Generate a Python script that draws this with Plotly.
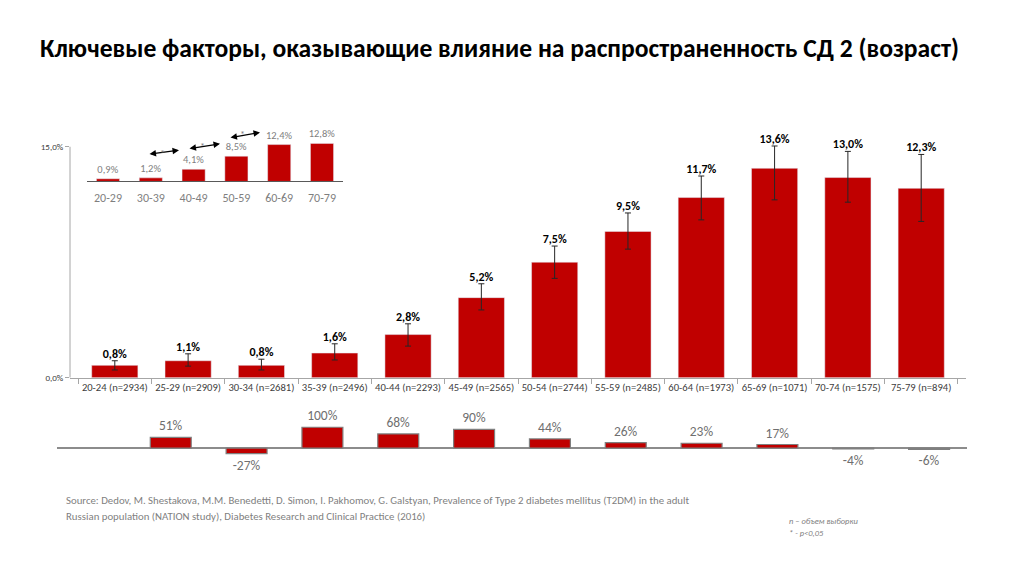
import plotly.graph_objects as go

W, H = 1024, 574
OFF_X, OFF_Y = 8, 4  # position of the plot div inside the page

# ---------------- data ----------------
main_cats = ["20-24 (n=2934)", "25-29 (n=2909)", "30-34 (n=2681)", "35-39 (n=2496)",
             "40-44 (n=2293)", "45-49 (n=2565)", "50-54 (n=2744)", "55-59 (n=2485)",
             "60-64 (n=1973)", "65-69 (n=1071)", "70-74 (n=1575)", "75-79 (n=894)"]
prevalence = [0.8, 1.1, 0.8, 1.6, 2.8, 5.2, 7.5, 9.5, 11.7, 13.6, 13.0, 12.3]
err_plus = [0.3, 0.45, 0.4, 0.6, 0.7, 0.9, 1.05, 1.2, 1.4, 1.45, 1.7, 2.2]
err_minus = [0.3, 0.35, 0.3, 0.45, 0.75, 0.8, 1.05, 1.15, 1.45, 2.05, 1.6, 2.15]

inset_cats = ["20-29", "30-39", "40-49", "50-59", "60-69", "70-79"]
inset_vals = [0.9, 1.2, 4.1, 8.5, 12.4, 12.8]

change_vals = [None, 51, -27, 100, 68, 90, 44, 26, 23, 17, -4, -6]

y_ticks = [0, 15]
y_ticktext = ["0,0%", "15,0%"]

title = "Ключевые факторы, оказывающие влияние на распространенность СД 2 (возраст)"
source_lines = [
    "Source: Dedov, M. Shestakova, M.M. Benedetti, D. Simon, I. Pakhomov, G. Galstyan, Prevalence of Type 2 diabetes mellitus (T2DM) in the adult",
    "Russian population (NATION study), Diabetes Research and Clinical Practice (2016)",
]
note_lines = ["n – объем выборки", "* - p<0,05"]

RED = "#C00000"
FONT = "Calibri, Carlito, 'Open Sans', sans-serif"

FW, FH = W - 2 * OFF_X, H - 2 * OFF_Y - 4


def px_x(x):
    return (x - OFF_X) / FW


def px_y(y):
    return 1 - (y - OFF_Y) / FH


def pct(v):
    return f"{v:.1f}".replace(".", ",") + "%"


# main plot geometry (page pixels)
MAIN_Y0, MAIN_Y15 = 377, 144
MAIN_TOP_VAL = 15.7
main_top_px = MAIN_Y0 - (MAIN_Y0 - MAIN_Y15) / 15 * MAIN_TOP_VAL

fig = go.Figure()

# main bars
fig.add_trace(go.Bar(
    x=main_cats, y=prevalence, width=0.63, marker=dict(color=RED),
    error_y=dict(type="data", array=err_plus, arrayminus=err_minus,
                 color="#262626", thickness=1, width=3),
    xaxis="x", yaxis="y", showlegend=False, hoverinfo="skip"))
fig.add_trace(go.Scatter(
    x=main_cats, y=[v + e for v, e in zip(prevalence, err_plus)],
    text=[pct(v) for v in prevalence], mode="text", textposition="top center",
    textfont=dict(size=12, color="#000000", family=FONT, weight="bold"),
    cliponaxis=False, xaxis="x", yaxis="y", showlegend=False, hoverinfo="skip"))

# inset bars
fig.add_trace(go.Bar(
    x=inset_cats, y=inset_vals, width=0.54, marker=dict(color=RED),
    text=[pct(v) for v in inset_vals], textposition="outside", constraintext="none",
    textfont=dict(size=10.5, color="#7f7f7f", family=FONT), cliponaxis=False,
    xaxis="x2", yaxis="y2", showlegend=False, hoverinfo="skip"))

# change bars
fig.add_trace(go.Bar(
    x=main_cats, y=change_vals, width=0.54,
    marker=dict(color=RED, line=dict(color="#7f7f7f", width=1.2)),
    text=["" if v is None else f"{v}%" for v in change_vals],
    textposition="outside", constraintext="none",
    textfont=dict(size=13.5, color="#6f6f6f", family=FONT), cliponaxis=False,
    xaxis="x3", yaxis="y3", showlegend=False, hoverinfo="skip"))

annotations = [
    dict(text=f"<b>{title}</b>", x=px_x(38), y=px_y(45), xref="paper", yref="paper",
         xanchor="left", yanchor="middle", showarrow=False,
         font=dict(size=25.6, color="#000000", family=FONT)),
]
for i, line in enumerate(source_lines):
    annotations.append(dict(text=line, x=px_x(64), y=px_y(501 + 16 * i), xref="paper", yref="paper",
                            xanchor="left", yanchor="middle", showarrow=False,
                            font=dict(size=10.8, color="#7f7f7f", family=FONT)))
for i, line in enumerate(note_lines):
    annotations.append(dict(text=f"<i>{line}</i>", x=px_x(787), y=px_y(522 + 12 * i), xref="paper", yref="paper",
                            xanchor="left", yanchor="middle", showarrow=False,
                            font=dict(size=8.5, color="#7f7f7f", family=FONT)))

# significance arrows in the inset (decorative)
arrows = [((148, 151.5), (179, 147.5), (158, 142)),
          ((188, 146), (220, 141), (198, 135)),
          ((229, 135), (260, 129.5), (238, 123))]
for (lx, ly), (rx, ry), (sx, sy) in arrows:
    annotations.append(dict(text="", x=px_x(rx), y=px_y(ry), xref="paper", yref="paper",
                            ax=lx - rx, ay=ly - ry, showarrow=True, arrowside="end+start",
                            arrowhead=2, arrowsize=1, arrowwidth=1.3, arrowcolor="#000000"))
    annotations.append(dict(text="*", x=px_x(sx), y=px_y(sy), xref="paper", yref="paper",
                            showarrow=False, font=dict(size=10, color="#7f7f7f", family=FONT)))

shapes = [dict(type="line", xref="x domain", yref="y", x0=0, x1=0, y0=0, y1=15,
               line=dict(color="#A6A6A6", width=1))]

fig.update_layout(
    width=FW, height=FH, margin=dict(l=0, r=0, t=0, b=0),
    paper_bgcolor="white", plot_bgcolor="rgba(0,0,0,0)",
    font=dict(family=FONT),
    xaxis=dict(domain=[px_x(70), px_x(966)], anchor="y", showline=True, linecolor="#A6A6A6",
               ticks="outside", tickson="boundaries", ticklen=5, tickcolor="#A6A6A6",
               tickangle=0, tickfont=dict(size=10.6, color="#404040"), showgrid=False),
    yaxis=dict(domain=[px_y(MAIN_Y0), px_y(main_top_px)], anchor="x", range=[0, MAIN_TOP_VAL],
               tickvals=y_ticks, ticktext=y_ticktext, ticks="outside", ticklen=4,
               tickcolor="#A6A6A6", showline=False, showgrid=False, zeroline=False,
               tickfont=dict(size=9, color="#404040")),
    xaxis2=dict(domain=[px_x(86.6), px_x(343.4)], anchor="y2", showline=True, linecolor="#595959",
                ticks="", showgrid=False, tickangle=0, tickfont=dict(size=12, color="#7f7f7f"),
                ticklabelstandoff=5),
    yaxis2=dict(domain=[px_y(179), px_y(134)], anchor="x2", range=[0, 15], visible=False),
    xaxis3=dict(domain=[px_x(57), px_x(967)], anchor="y3", showticklabels=False, showline=False,
                showgrid=False, ticks=""),
    yaxis3=dict(domain=[px_y(469), px_y(406)], anchor="x3", range=[-100, 200], showticklabels=False,
                showgrid=False, showline=False, ticks="", zeroline=True, zerolinecolor="#8c8c8c",
                zerolinewidth=2),
    annotations=annotations,
    shapes=shapes,
)

fig.write_html("out.html")
